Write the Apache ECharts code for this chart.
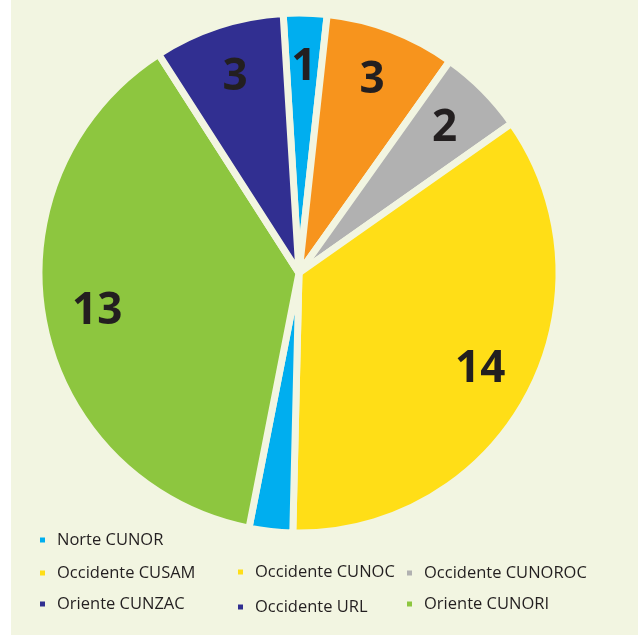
<!DOCTYPE html>
<html><head><meta charset="utf-8">
<script src="https://cdn.jsdelivr.net/npm/echarts@6/dist/echarts.min.js"></script>
<style>html,body{margin:0;padding:0;background:#fff;}#c{width:638px;height:635px;}</style>
</head><body><div id="c"></div>
<script>
// slices, clockwise from the top
const categories = ['Norte CUNOR','Occidente CUSAM','Occidente CUNOROC','Occidente CUNOC','Occidente URL','Oriente CUNORI','Oriente CUNZAC'];
const values = [1, 3, 2, 13, 1, 14, 3];
const sliceLabels = ['1', '3', '2', '14', '', '13', '3'];
const sliceColors = ['#00AEEF', '#F7941D', '#B1B1B1', '#FFDE17', '#00AEEF', '#8DC63F', '#312F91'];
// legend as printed
const legendNames = ['Norte CUNOR','Occidente CUSAM','Occidente CUNOC','Occidente CUNOROC','Oriente CUNZAC','Occidente URL','Oriente CUNORI'];
const legendColors = ['#00AEEF','#FFDE17','#FFDE17','#B1B1B1','#312F91','#312F91','#8DC63F'];

const BG = '#F2F5E1';
const INK = '#231F20';
const legendPos = [[38,540],[38,573],[236,572],[405,573],[38,604],[236,607],[405,604]];

const chart = echarts.init(document.getElementById('c'), null, {renderer: 'canvas'});
const pieData = categories.map((n, i) => ({name: n, value: values[i], itemStyle: {color: sliceColors[i]}}));

const legends = legendNames.map((n, i) => ({
  data: [{name: n, itemStyle: {color: legendColors[i]}}],
  left: legendPos[i][0], top: legendPos[i][1] - 10,
  padding: 0, itemWidth: 7, itemHeight: 7, icon: 'rect',
  selectedMode: false,
  textStyle: {fontFamily: 'Open Sans', fontSize: 16.5, color: INK, lineHeight: 20, padding: [0,0,0,6]}
}));

chart.setOption({
  animation: false,
  backgroundColor: 'transparent',
  graphic: [{type: 'rect', z: -10, shape: {x: 11, y: 0, width: 627, height: 635}, style: {fill: BG}, silent: true}],
  legend: legends,
  series: [
    {
      type: 'pie', center: [299, 273], radius: [0, 260], startAngle: 93.5, clockwise: true,
      data: pieData, label: {show: false}, labelLine: {show: false},
      itemStyle: {borderColor: BG, borderWidth: 7}, emphasis: {disabled: true}, silent: true
    },
    {
      type: 'pie', center: [299, 273], radius: [145, 260], startAngle: 93.5, clockwise: true,
      data: categories.map((n, i) => ({name: n, value: values[i], itemStyle: {color: 'rgba(0,0,0,0)'}})),
      itemStyle: {borderWidth: 0}, legendHoverLink: false, silent: true, emphasis: {disabled: true},
      label: {show: true, position: 'inside', formatter: p => sliceLabels[p.dataIndex],
        fontFamily: 'Open Sans', fontWeight: 'bold', fontSize: 44, color: INK},
      labelLine: {show: false}
    }
  ]
});
</script></body></html>
